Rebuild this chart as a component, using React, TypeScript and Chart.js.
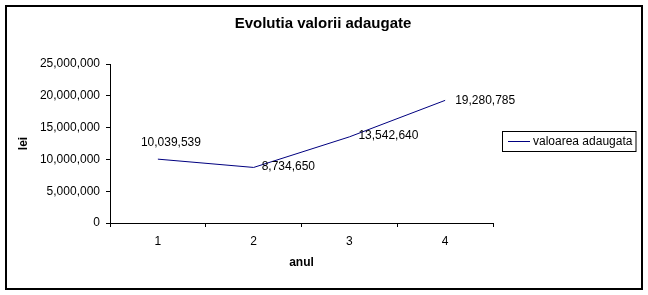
import React, { useEffect, useRef } from 'react';
import { Chart, registerables } from 'chart.js';

Chart.register(...registerables);

const categories = ['1', '2', '3', '4'];
const values = [10039539, 8734650, 13542640, 19280785];
const seriesName = 'valoarea adaugata';
const chartTitle = 'Evolutia valorii adaugate';
const xTitle = 'anul';
const yTitle = 'lei';
const yMin = 0;
const yMax = 25000000;
const yStep = 5000000;

// label offsets (style only) relative to each point
const labelOffsets = [
  [-17, -16],
  [8, -1],
  [9, -1],
  [10, 0],
];

const FONT = '"Liberation Sans", Arial, sans-serif';
const LINE_COLOR = '#000080';

const fmt = (n: number) => n.toLocaleString('en-US');

const decor = {
  id: 'decor',
  beforeDraw(chart: any) {
    const ctx = chart.ctx;
    ctx.save();
    ctx.fillStyle = '#ffffff';
    ctx.fillRect(0, 0, chart.width, chart.height);
    ctx.restore();
  },
  afterDraw(chart: any) {
    const ctx = chart.ctx;
    ctx.save();
    // outer frame
    ctx.strokeStyle = '#000';
    ctx.lineWidth = 2;
    ctx.strokeRect(6, 6, 636, 283);
    // title
    ctx.fillStyle = '#000';
    ctx.font = `bold 15px ${FONT}`;
    ctx.textAlign = 'center';
    ctx.textBaseline = 'middle';
    ctx.fillText(chartTitle, 323, 24);
    // data labels
    const meta = chart.getDatasetMeta(0);
    ctx.font = `12px ${FONT}`;
    ctx.textAlign = 'left';
    meta.data.forEach((pt: any, i: number) => {
      const o = labelOffsets[i];
      ctx.fillText(fmt(values[i]), pt.x + o[0], pt.y + o[1]);
    });
    // legend
    ctx.lineWidth = 1;
    ctx.strokeStyle = '#000';
    ctx.strokeRect(502.5, 131.5, 133.5, 20);
    ctx.strokeStyle = LINE_COLOR;
    ctx.beginPath();
    ctx.moveTo(508, 141.5);
    ctx.lineTo(530, 141.5);
    ctx.stroke();
    ctx.fillStyle = '#000';
    ctx.textAlign = 'left';
    ctx.fillText(chart.data.datasets[0].label, 533, 142);
    ctx.restore();
  },
};

export default function App() {
  const ref = useRef<HTMLCanvasElement | null>(null);
  useEffect(() => {
    document.body.style.margin = '0';
    if (!ref.current) return;
    const chart = new Chart(ref.current, {
      type: 'line',
      data: {
        labels: categories,
        datasets: [
          {
            label: seriesName,
            data: values,
            borderColor: LINE_COLOR,
            backgroundColor: LINE_COLOR,
            borderWidth: 1,
            pointRadius: 0,
            tension: 0,
            fill: false,
          },
        ],
      },
      options: {
        animation: false,
        responsive: false,
        maintainAspectRatio: false,
        layout: { padding: { left: 0, top: 64, right: 648 - 493, bottom: 0 } },
        plugins: {
          legend: { display: false },
          title: { display: false },
          tooltip: { enabled: false },
        },
        scales: {
          x: {
            type: 'category',
            offset: true,
            grid: {
              offset: true,
              drawOnChartArea: false,
              drawTicks: true,
              tickLength: 4,
              color: '#000',
              tickColor: '#000',
            },
            border: { display: true, color: '#000', width: 1 },
            ticks: { color: '#000', font: { family: FONT, size: 12 }, padding: 7, maxRotation: 0 },
            title: {
              display: true,
              text: xTitle,
              color: '#000',
              font: { family: FONT, size: 12, weight: 'bold' },
              padding: { top: 0, bottom: 25 },
            },
            afterFit: (s: any) => {
              s.height = 72;
            },
          },
          y: {
            min: yMin,
            max: yMax,
            ticks: {
              stepSize: yStep,
              color: '#000',
              font: { family: FONT, size: 12 },
              padding: 6,
              callback: (v: any) => fmt(Number(v)),
            },
            grid: {
              drawOnChartArea: false,
              drawTicks: true,
              tickLength: 4,
              color: '#000',
              tickColor: '#000',
            },
            border: { display: true, color: '#000', width: 1 },
            title: {
              display: true,
              text: yTitle,
              color: '#000',
              font: { family: FONT, size: 12, weight: 'bold' },
              padding: { top: 16, bottom: 0 },
            },
            afterFit: (s: any) => {
              s.width = 110;
            },
          },
        },
      },
      plugins: [decor],
    } as any);
    return () => chart.destroy();
  }, []);
  return <canvas ref={ref} width={648} height={295} style={{ display: 'block' }} />;
}
